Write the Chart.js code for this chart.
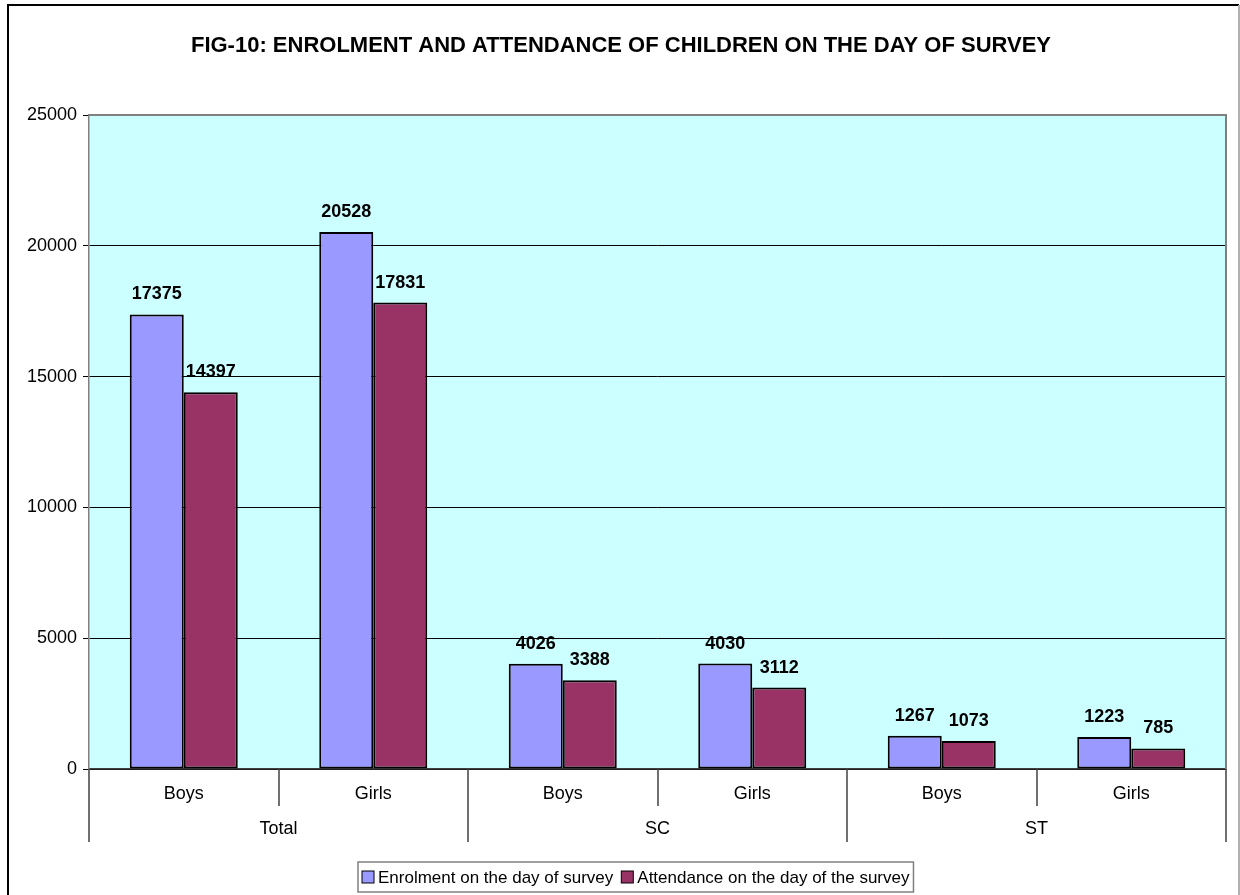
<!DOCTYPE html>
<html>
<head>
<meta charset="utf-8">
<script src="https://cdn.jsdelivr.net/npm/chart.js@4/dist/chart.umd.min.js"></script>
<style>
  html, body { margin: 0; padding: 0; background: #fff; }
  canvas { display: block; }
</style>
</head>
<body>
<canvas id="enrolChart" width="1240" height="895"></canvas>
<script>
// ---- data ----
const categories = ["Boys", "Girls", "Boys", "Girls", "Boys", "Girls"];
const groups = ["Total", "SC", "ST"];
const enrolment = [17375, 20528, 4026, 4030, 1267, 1223];
const attendance = [14397, 17831, 3388, 3112, 1073, 785];
const seriesNames = ["Enrolment on the day of survey", "Attendance on the day of the survey"];
const titleText = "FIG-10: ENROLMENT AND ATTENDANCE OF CHILDREN ON THE DAY OF SURVEY";

const FONT = "'Liberation Sans', Arial, Helvetica, sans-serif";

/* background + plot area fill */
const backgroundPlugin = {
    id: "bg",
    beforeDraw(chart) {
        const { ctx, chartArea: a } = chart;
        ctx.save();
        ctx.fillStyle = "#fff";
        ctx.fillRect(0, 0, chart.width, chart.height);
        ctx.fillStyle = "#CCFFFF";
        ctx.fillRect(a.left, a.top, a.right - a.left, a.bottom - a.top);
        ctx.restore();
    }
};

/* value labels above bars */
const valueLabels = {
    id: "valueLabels",
    afterDatasetsDraw(chart) {
        const ctx = chart.ctx;
        ctx.save();
        ctx.font = "bold 18px " + FONT;
        ctx.fillStyle = "#000";
        ctx.textAlign = "center";
        ctx.textBaseline = "alphabetic";
        chart.data.datasets.forEach((ds, di) => {
            chart.getDatasetMeta(di).data.forEach((bar, i) => {
                ctx.fillText(String(ds.data[i]), bar.x, bar.y - 15);
            });
        });
        ctx.restore();
    }
};

/* frame, title, two-level x axis, legend */
const decorations = {
    id: "decor",
    afterDraw(chart) {
        const { ctx, chartArea: a } = chart;
        const x = chart.scales.x;
        ctx.save();

        // plot frame (top + right)
        ctx.strokeStyle = "#808080";
        ctx.lineWidth = 2;
        ctx.beginPath();
        ctx.moveTo(a.left, a.top);
        ctx.lineTo(a.right, a.top);
        ctx.lineTo(a.right, a.bottom);
        ctx.stroke();

        // outer border
        ctx.strokeStyle = "#000";
        ctx.lineWidth = 2;
        ctx.beginPath();
        ctx.moveTo(8, 900);
        ctx.lineTo(8, 5);
        ctx.lineTo(1239, 5);
        ctx.stroke();
        ctx.strokeStyle = "#b0b0b0";
        ctx.beginPath();
        ctx.moveTo(1239, 5);
        ctx.lineTo(1239, 900);
        ctx.stroke();

        // title
        ctx.fillStyle = "#000";
        ctx.font = "bold 22px " + FONT;
        ctx.textAlign = "center";
        ctx.textBaseline = "middle";
        ctx.fillText(titleText, 621, 46);

        // category labels + separators
        const step = (a.right - a.left) / categories.length;
        ctx.font = "18px " + FONT;
        ctx.lineWidth = 1.5;
        ctx.strokeStyle = "#404040";
        categories.forEach((c, i) => {
            const cx = x.getPixelForValue(i);
            ctx.fillText(c, cx, 794);
        });
        for (let i = 0; i <= categories.length; i++) {
            const lx = Math.round(a.left + i * step);
            const long = i % 2 === 0;
            ctx.beginPath();
            ctx.moveTo(lx, a.bottom);
            ctx.lineTo(lx, long ? 842 : 806);
            ctx.stroke();
        }
        groups.forEach((g, gi) => {
            const gx = a.left + (gi * 2 + 1) * step;
            ctx.fillText(g, gx, 829);
        });

        // legend
        ctx.font = "17px " + FONT;
        const box = 12, gap = 4, between = 8;
        const items = chart.data.datasets.map(ds => ({
            text: ds.label, color: ds.backgroundColor,
            w: box + gap + ctx.measureText(ds.label).width
        }));
        const total = items.reduce((s, it) => s + it.w, 0) + between * (items.length - 1) + 8;
        const lx0 = 358;
        const ly = 862, lh = 30;
        ctx.strokeStyle = "#808080";
        ctx.lineWidth = 1.5;
        ctx.strokeRect(lx0, ly, total, lh);
        let px = lx0 + 4;
        ctx.textAlign = "left";
        items.forEach(it => {
            ctx.fillStyle = it.color;
            ctx.fillRect(px, ly + lh / 2 - box / 2, box, box);
            ctx.strokeStyle = "#000";
            ctx.lineWidth = 1;
            ctx.strokeRect(px, ly + lh / 2 - box / 2, box, box);
            ctx.fillStyle = "#000";
            ctx.fillText(it.text, px + box + gap, ly + lh / 2 + 1);
            px += it.w + between;
        });

        ctx.restore();
    }
};

new Chart(document.getElementById("enrolChart"), {
    type: "bar",
    data: {
        labels: categories,
        datasets: [
            {
                label: seriesNames[0],
                data: enrolment,
                backgroundColor: "#9999FF",
                borderColor: "#000",
                borderWidth: 2,
                borderSkipped: false
            },
            {
                label: seriesNames[1],
                data: attendance,
                backgroundColor: "#993366",
                borderColor: "#000",
                borderWidth: 2,
                borderSkipped: false
            }
        ]
    },
    options: {
        responsive: false,
        animation: false,
        devicePixelRatio: 1,
        layout: { padding: { left: 0, right: 14, top: 115, bottom: 0 } },
        datasets: { bar: { categoryPercentage: 0.57, barPercentage: 1.0 } },
        plugins: {
            legend: { display: false },
            title: { display: false },
            tooltip: { enabled: false }
        },
        scales: {
            x: {
                grid: { display: false },
                border: { display: true, color: "#404040", width: 1.5 },
                ticks: { display: false },
                afterFit: s => { s.height = 126; }
            },
            y: {
                min: 0,
                max: 25000,
                ticks: {
                    stepSize: 5000,
                    color: "#000",
                    font: { family: FONT, size: 18 },
                    padding: 6,
                    callback: v => String(v)
                },
                grid: { color: "#000", lineWidth: 1, tickLength: 6, tickColor: "#000" },
                border: { display: true, color: "#808080", width: 1.5 },
                afterFit: s => { s.width = 89; }
            }
        }
    },
    plugins: [backgroundPlugin, valueLabels, decorations]
});
</script>
</body>
</html>
